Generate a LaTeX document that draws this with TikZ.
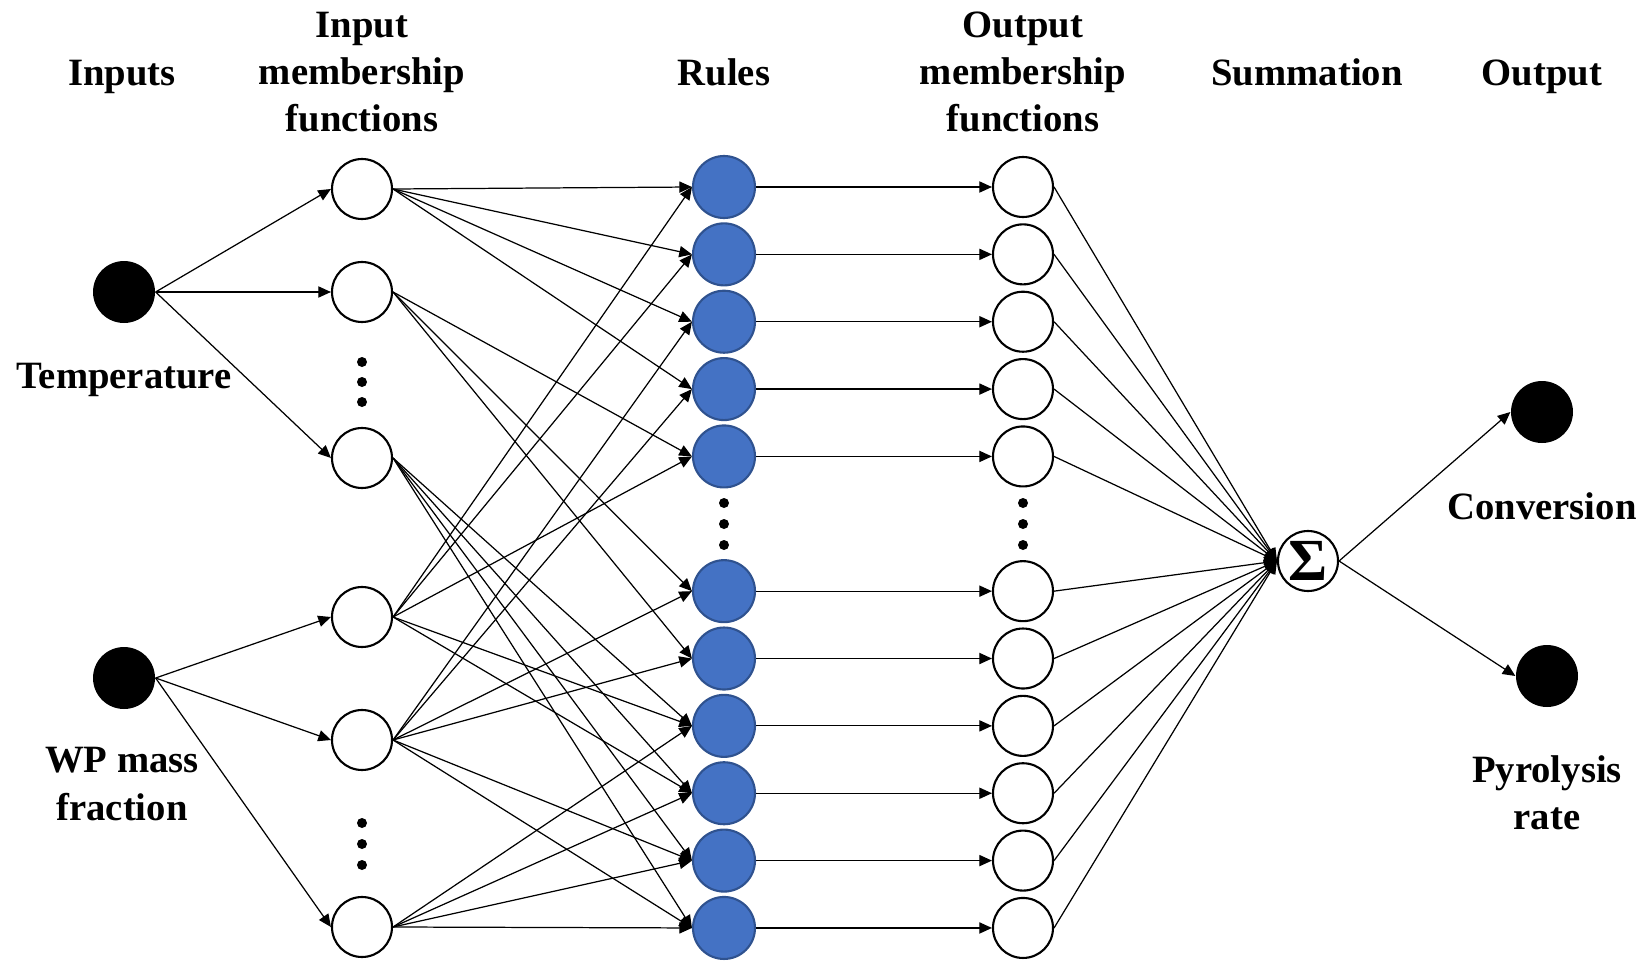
\documentclass[tikz,border=0pt]{standalone}
\usepackage{fontspec}
\setmainfont{Liberation Serif}
\usetikzlibrary{arrows.meta}
\definecolor{ruleblue}{HTML}{4472C4}
\definecolor{ruleedge}{HTML}{2F528F}
\tikzset{
  inp/.style={circle, fill=black, minimum size=6.2mm, inner sep=0pt},
  mf/.style={circle, draw, line width=0.6pt, fill=white, minimum size=6mm, inner sep=0pt},
  rulenode/.style={circle, draw=ruleedge, line width=0.6pt, fill=ruleblue, minimum size=6.2mm, inner sep=0pt},
  lab/.style={font=\fontsize{11}{13.4}\selectfont\bfseries, align=center, inner sep=0pt},
}
\begin{document}
\begin{tikzpicture}[>={Triangle[length=3.6pt,width=3.2pt]}, line width=0.35pt]
    \useasboundingbox (0,0) rectangle (16.44,9.6);
    % column titles
    \node[lab] (tInputs) at (1.22,8.83) {Inputs};
    \node[lab] (tInMF) at (3.62,8.88) {Input\\membership\\functions};
    \node[lab] (tRules) at (7.24,8.88) {Rules};
    \node[lab] (tOutMF) at (10.23,8.88) {Output\\membership\\functions};
    \node[lab] (tSum) at (13.07,8.88) {Summation};
    \node[lab] (tOutput) at (15.42,8.83) {Output};
    %
    \node[inp] (temp) at (1.24,6.68) {};
    \node[inp] (wp) at (1.24,2.82) {};
    \node[lab] (lTemp) at (1.24,5.80) {Temperature};
    \node[lab] (lWp) at (1.22,1.76) {WP mass\\fraction};
    %
    \foreach \y / \n in {7.71/1,6.68/2,5.02/3,3.43/4,2.20/5,0.33/6}
    \node[mf] (m\n) at (3.62,\y) {};
    \foreach \y in {5.98,5.78,5.58,1.37,1.16,0.95}
    \fill (3.62,\y) circle (0.05);
    %
    \foreach \n / \k in {1/0,2/1,3/2,4/3,5/4,6/6,7/7,8/8,9/9,10/10,11/11}
    {
    \node[rulenode] (r\n) at (7.24,{7.73-0.6736*\k}) {};
    \node[mf] (o\n) at (10.23,{7.73-0.6736*\k}) {};
    }
    \foreach \x in {7.24,10.23}
    \foreach \y in {4.57,4.36,4.15}
    \fill (\x,\y) circle (0.05);
    %
    \node[mf] (sum) at (13.08,3.99) {\fontsize{17}{17}\selectfont\bfseries Σ};
    \node[inp] (conv) at (15.42,5.48) {};
    \node[inp] (pyro) at (15.47,2.84) {};
    \node[lab] (lConv) at (15.42,4.54) {Conversion};
    \node[lab] (lPyro) at (15.47,1.67) {Pyrolysis\\rate};
    %
    \foreach \n in {1,2,3}
    \draw[->] (temp.east) -- (m\n.west);
    \foreach \n in {4,5,6}
    \draw[->] (wp.east) -- (m\n.west);
    %
    \foreach \a / \b in {1/1,1/2,1/3,1/4,2/5,2/6,2/7,3/8,3/9,3/10,3/11,
                         4/1,4/2,4/5,4/8,4/9,5/3,5/4,5/6,5/7,5/10,5/11,
                         6/8,6/9,6/10,6/11}
    \draw[->] (m\a.east) -- (r\b.west);
    %
    \foreach \n in {1,...,11}
    {
    \draw[->] (r\n.east) -- (o\n.west);
    \draw[->] (o\n.east) -- (sum.west);
    }
    %
    \draw[->] (sum.east) -- (conv.west);
    \draw[->] (sum.east) -- (pyro.west);
\end{tikzpicture}
\end{document}
